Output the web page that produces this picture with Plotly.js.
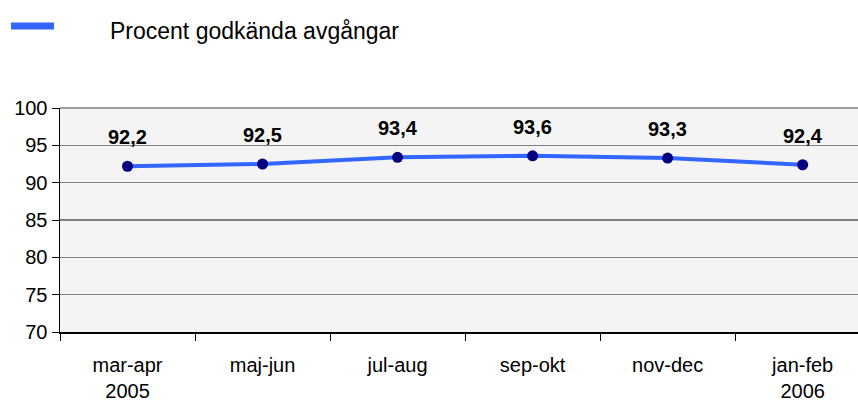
<!DOCTYPE html>
<html><head><meta charset="utf-8">
<script src="https://cdn.plot.ly/plotly-3.0.1.min.js"></script>
<style>html,body{margin:0;padding:0;background:#fff}#c{width:858px;height:408px}</style>
</head><body><div id="c"></div>
<script>
const categories = ["mar-apr<br>2005", "maj-jun", "jul-aug", "sep-okt", "nov-dec", "jan-feb<br>2006"];
const values = [92.2, 92.5, 93.4, 93.6, 93.3, 92.4];
const seriesName = "Procent godkända avgångar";
const yTicks = [70, 75, 80, 85, 90, 95, 100];

const fmt = v => v.toFixed(1).replace('.', ',');
const trace = {
  type: 'scatter', mode: 'lines+markers', x: categories, y: values, name: seriesName,
  line: {color: '#3366FF', width: 4},
  marker: {color: '#000080', size: 11},
  showlegend: false, cliponaxis: false
};
const ann = values.map((v, i) => ({
  x: categories[i], y: v, xref: 'x', yref: 'y', text: fmt(v), showarrow: false,
  yshift: 29, font: {family: 'Liberation Sans, Arial', size: 20, color: '#000', weight: 'bold'}
}));
const px = p => (p - 60) / 798;
const py = p => (332 - p) / 224;
const layout = {
  width: 858, height: 408,
  margin: {l: 60, r: 0, t: 108, b: 76},
  paper_bgcolor: '#ffffff', plot_bgcolor: '#f4f4f4',
  font: {family: 'Liberation Sans, Arial', size: 20, color: '#000'},
  xaxis: {
    type: 'category', range: [-0.5, 5.41], showgrid: false, zeroline: false,
    showline: true, linecolor: '#000', linewidth: 1.5,
    ticks: 'outside', tickson: 'boundaries', ticklen: 7, tickcolor: '#000', tickwidth: 1,
    tickfont: {size: 20}, ticklabelstandoff: 14, fixedrange: true
  },
  yaxis: {
    range: [70, 100], tickvals: yTicks, showgrid: true, gridcolor: '#808080', gridwidth: 1.3,
    zeroline: false, showline: true, linecolor: '#000', linewidth: 1.5,
    ticks: 'outside', ticklen: 7, tickcolor: '#000', tickfont: {size: 20}, fixedrange: true
  },
  shapes: [
    {type: 'line', xref: 'paper', yref: 'paper', x0: px(11), x1: px(54), y0: py(26), y1: py(26),
     line: {color: '#3366FF', width: 7}},
    {type: 'line', xref: 'paper', yref: 'paper', x0: 0, x1: 1, y0: 1, y1: 1, line: {color: '#808080', width: 1.5}}
  ],
  annotations: ann.concat([{
    xref: 'paper', yref: 'paper', x: px(108), y: py(31), xanchor: 'left', yanchor: 'middle',
    text: seriesName, showarrow: false, font: {size: 23, color: '#000'}
  }])
};
Plotly.newPlot('c', [trace], layout, {displayModeBar: false, staticPlot: true});
</script></body></html>
